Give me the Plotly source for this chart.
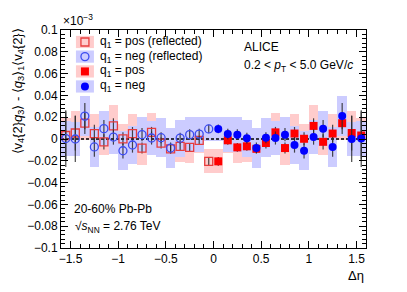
import plotly.graph_objects as go

# ---- data (values in units of 1e-3 as labelled on the axis) ----
deta = [0.05, 0.15, 0.25, 0.35, 0.45, 0.55, 0.65, 0.75,
        0.85, 0.95, 1.05, 1.15, 1.25, 1.35, 1.45, 1.55]
pos_val = [-0.0205, -0.0012, -0.0077, -0.0067, -0.0090, -0.0037, 0.0061, -0.0083,
           0.0050, 0.0002, 0.0120, -0.0026, 0.0050, 0.0145, 0.0055, 0.0032]
neg_val = [0.0092, 0.0045, 0.0040, 0.0008, -0.0083, 0.0012, 0.0009, 0.0040,
           -0.0055, -0.0108, 0.0018, 0.0095, -0.0073, 0.0210, 0.0000, 0.0004]
pos_stat = [0.004, 0.004, 0.004, 0.004, 0.004, 0.005, 0.005, 0.005,
            0.006, 0.006, 0.007, 0.007, 0.008, 0.010, 0.016, 0.022]
neg_stat = [0.004, 0.005, 0.005, 0.005, 0.005, 0.005, 0.006, 0.006,
            0.007, 0.007, 0.007, 0.008, 0.009, 0.012, 0.021, 0.026]
pos_syst = [0.011, 0.012, 0.014, 0.014, 0.013, 0.012, 0.018, 0.016,
            0.018, 0.014, 0.019, 0.012, 0.018, 0.015, 0.020, 0.016]
neg_syst = [0.011, 0.016, 0.016, 0.017, 0.018, 0.018, 0.016, 0.016,
            0.017, 0.018, 0.016, 0.016, 0.018, 0.018, 0.016, 0.016]
bin_width = 0.1
deta_refl = [-x for x in deta]

x_range = [-1.6, 1.6]
y_range = [-0.1, 0.1]

PINK = "rgb(255,204,204)"
LBLUE = "rgb(204,204,255)"
RED = "#ff0000"
BLUE = "#0000ff"
RED_O = "#e83c3c"
BLUE_O = "#3c4cf0"
ERR = "rgba(40,40,40,0.85)"
FONT = "Liberation Sans, Arial, Helvetica, sans-serif"

fig = go.Figure()


def band(x, val, syst, color):
    fig.add_trace(go.Bar(
        x=x, y=[2 * s for s in syst], base=[v - s for v, s in zip(val, syst)],
        width=bin_width, marker=dict(color=color, line=dict(width=0)),
        hoverinfo="skip"))


band(deta_refl, pos_val, pos_syst, PINK)
band(deta, pos_val, pos_syst, PINK)
band(deta_refl, neg_val, neg_syst, LBLUE)
band(deta, neg_val, neg_syst, LBLUE)

# zero reference line
fig.add_trace(go.Scatter(x=x_range, y=[0, 0], mode="lines",
                         line=dict(color="black", width=1.5, dash="3px,2px"),
                         hoverinfo="skip"))


def pts(x, val, stat, symbol, color, lw=0):
    fig.add_trace(go.Scatter(
        x=x, y=val, mode="markers",
        marker=dict(symbol=symbol, size=8, color=color, line=dict(width=lw, color=color)),
        error_y=dict(type="data", array=stat, color=ERR, thickness=1.2, width=0)))


pts(deta_refl, pos_val, pos_stat, "square-open", RED_O, 1.3)
pts(deta_refl, neg_val, neg_stat, "circle-open", BLUE_O, 1.3)
pts(deta, pos_val, pos_stat, "square", RED)
pts(deta, neg_val, neg_stat, "circle", BLUE)

# ---- hand-made legend (on an overlay 0..1 axis) ----
leg_labels = ["q<sub>1</sub> = pos (reflected)", "q<sub>1</sub> = neg (reflected)",
              "q<sub>1</sub> = pos", "q<sub>1</sub> = neg"]
leg_y = [0.945, 0.878, 0.810, 0.741]
leg_box = [PINK, LBLUE, PINK, LBLUE]
leg_sym = ["square-open", "circle-open", "square", "circle"]
leg_col = [RED_O, BLUE_O, RED, BLUE]
leg_x0, leg_x1, leg_h = 0.049, 0.108, 0.028
leg_xm = (leg_x0 + leg_x1) / 2

shapes = []
annotations = []
for lab, yy, bc, sym, col in zip(leg_labels, leg_y, leg_box, leg_sym, leg_col):
    shapes.append(dict(type="rect", xref="paper", yref="paper", x0=leg_x0, x1=leg_x1,
                       y0=yy - leg_h, y1=yy + leg_h, fillcolor=bc, line=dict(width=0),
                       layer="below"))
    fig.add_trace(go.Scatter(x=[leg_xm], y=[yy], xaxis="x2", yaxis="y2", mode="markers",
                             marker=dict(symbol=sym, size=8, color=col,
                                         line=dict(width=1.3 if "open" in sym else 0, color=col)),
                             hoverinfo="skip"))
    annotations.append(dict(xref="paper", yref="paper", x=0.122, y=yy, xanchor="left",
                            yanchor="middle", text=lab, showarrow=False,
                            font=dict(size=12, family=FONT, color="black")))

annotations += [
    dict(xref="paper", yref="paper", x=0.593, y=0.922, xanchor="left", yanchor="middle",
         text="ALICE", showarrow=False, font=dict(size=12, family=FONT)),
    dict(xref="paper", yref="paper", x=0.593, y=0.835, xanchor="left", yanchor="middle",
         text="0.2 &lt; <i>p</i><sub>T</sub> &lt; 5.0 GeV/<i>c</i>", showarrow=False,
         font=dict(size=12, family=FONT)),
    dict(xref="paper", yref="paper", x=0.036, y=0.179, xanchor="left", yanchor="middle",
         text="20-60% Pb-Pb", showarrow=False, font=dict(size=12, family=FONT)),
    dict(xref="paper", yref="paper", x=0.039, y=0.096, xanchor="left", yanchor="middle",
         text="√<i>s</i><sub>NN</sub> = 2.76 TeV", showarrow=False, font=dict(size=12, family=FONT)),
    dict(xref="paper", yref="paper", x=0.0, y=1.0, xanchor="left", yanchor="bottom",
         text="×10<sup>−3</sup>", showarrow=False, font=dict(size=12, family=FONT)),
    dict(xref="paper", yref="paper", x=1.0, y=-0.125, xanchor="right", yanchor="middle",
         text="Δη", showarrow=False, font=dict(size=13, family=FONT)),
    dict(xref="paper", yref="paper", x=-0.141, y=0.718, xanchor="center", yanchor="middle",
         textangle=-90, showarrow=False, font=dict(size=13, family=FONT),
         text="⟨v<sub>4</sub>{2}<i>q</i><sub>3</sub>⟩ - ⟨<i>q</i><sub>3</sub>⟩<sub>1</sub>⟨v<sub>4</sub>{2}⟩"),
]

axis_common = dict(ticks="inside", tickcolor="black", ticklen=7, tickwidth=1,
                   showline=True, linecolor="black", linewidth=1, mirror="allticks",
                   showgrid=False, zeroline=False,
                   tickfont=dict(size=12, family=FONT, color="black"))

# margins compensate for the page's default 8px body offset
fig.update_layout(
    width=407, height=292,
    margin=dict(l=53, r=49, t=22, b=52),
    paper_bgcolor="white", plot_bgcolor="white",
    showlegend=False, barmode="overlay", bargap=0,
    font=dict(family=FONT, size=12, color="black"),
    xaxis=dict(range=x_range, dtick=0.5, tick0=0,
               minor=dict(dtick=0.1, ticks="inside", ticklen=4, tickcolor="black"),
               **axis_common),
    yaxis=dict(range=y_range, dtick=0.02, tick0=0,
               minor=dict(dtick=0.004, ticks="inside", ticklen=4, tickcolor="black"),
               **axis_common),
    xaxis2=dict(overlaying="x", range=[0, 1], visible=False),
    yaxis2=dict(overlaying="y", range=[0, 1], visible=False),
    shapes=shapes, annotations=annotations,
)

fig.write_html("out.html")
